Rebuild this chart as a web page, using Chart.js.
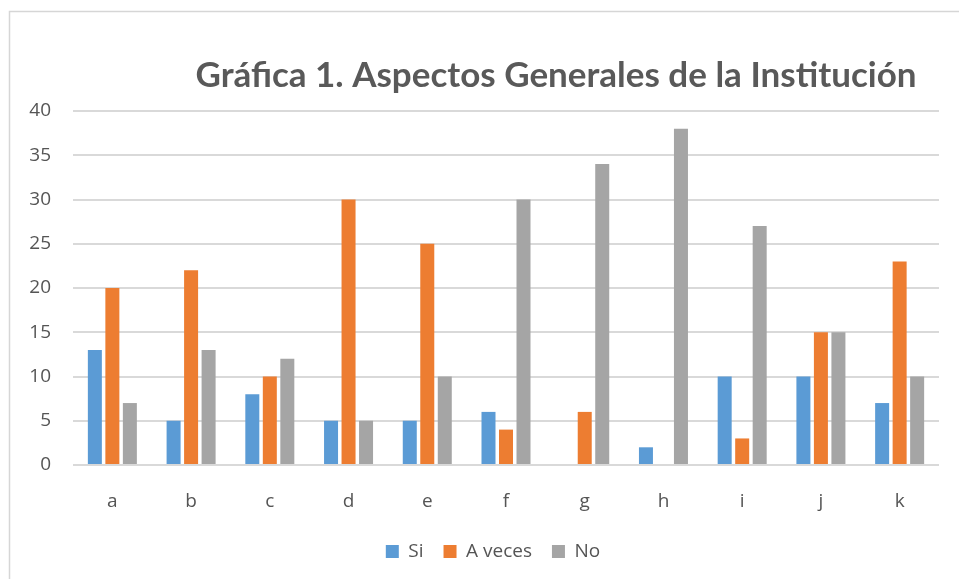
<!DOCTYPE html>
<html>
<head>
<meta charset="utf-8">
<script src="https://cdn.jsdelivr.net/npm/chart.js@4/dist/chart.umd.min.js"></script>
<style>
  html, body { margin: 0; padding: 0; background: #ffffff; }
  #wrap { position: relative; width: 959px; height: 579px; }
</style>
</head>
<body>
<div id="wrap"><canvas id="c" width="959" height="579"></canvas></div>
<script>
const titleText = "Gráfica 1. Aspectos Generales de la Institución";
const categories = ["a", "b", "c", "d", "e", "f", "g", "h", "i", "j", "k"];
const seriesNames = ["Si", "A veces", "No"];
const siValues     = [13, 5, 8, 5, 5, 6, 0, 2, 10, 10, 7];
const aVecesValues = [20, 22, 10, 30, 25, 4, 6, 0, 3, 15, 23];
const noValues     = [7, 13, 12, 5, 10, 30, 34, 38, 27, 15, 10];
const yTicks = [0, 5, 10, 15, 20, 25, 30, 35, 40];

const textColor = "#555555";
const gridColor = "#d9d9d9";
const labelFont = { family: "'Open Sans', sans-serif", size: 19 };

const framePlugin = {
  id: "frame",
  afterLayout(chart) {
    if (chart.legend) {
      chart.legend.left += 19;
      chart.legend.right += 19;
    }
  },
  afterDraw(chart) {
    const ctx = chart.ctx;
    ctx.save();
    ctx.strokeStyle = "#d6d6d6";
    ctx.lineWidth = 1.5;
    ctx.beginPath();
    ctx.moveTo(9.5, 579);
    ctx.lineTo(9.5, 11.5);
    ctx.lineTo(959, 11.5);
    ctx.stroke();
    ctx.fillStyle = "#595959";
    ctx.font = "bold 35px Lato, 'Open Sans', sans-serif";
    ctx.textAlign = "center";
    ctx.textBaseline = "alphabetic";
    ctx.fillText(titleText, 556, 87);
    ctx.restore();
  }
};

new Chart(document.getElementById("c"), {
  type: "bar",
  data: {
    labels: categories,
    datasets: [
      { label: seriesNames[0], data: siValues, backgroundColor: "#5b9bd5" },
      { label: seriesNames[1], data: aVecesValues, backgroundColor: "#ed7d31" },
      { label: seriesNames[2], data: noValues, backgroundColor: "#a5a5a5" }
    ]
  },
  options: {
    responsive: false,
    animation: false,
    devicePixelRatio: 1,
    categoryPercentage: 0.667,
    barPercentage: 0.8,
    layout: { padding: { left: 9, right: 20, top: 111, bottom: 8 } },
    plugins: {
      title: { display: false },
      tooltip: { enabled: false },
      legend: {
        display: true,
        position: "bottom",
        labels: {
          color: textColor,
          font: labelFont,
          boxWidth: 13,
          boxHeight: 13,
          padding: 20
        }
      }
    },
    scales: {
      x: {
        grid: { display: false, drawTicks: false },
        border: { display: false },
        ticks: {
          color: textColor,
          font: labelFont,
          padding: 25
        },
        afterFit(scale) { scale.height = 57; }
      },
      y: {
        min: 0,
        max: 40,
        afterBuildTicks(scale) { scale.ticks = yTicks.map(v => ({ value: v })); },
        grid: { color: gridColor, lineWidth: 2, drawTicks: false },
        border: { display: false },
        ticks: {
          color: textColor,
          font: labelFont,
          padding: 22
        },
        afterFit(scale) { scale.width = 64; }
      }
    }
  },
  plugins: [framePlugin]
});
</script>
</body>
</html>
